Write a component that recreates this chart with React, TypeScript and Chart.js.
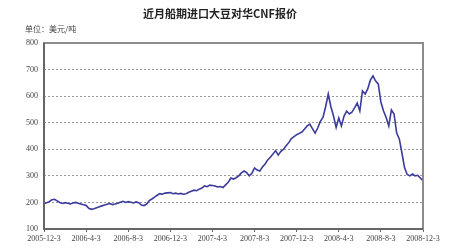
import { useEffect, useRef } from 'react';
import { Chart, registerables } from 'chart.js';

Chart.register(...registerables);

const chartTitle = '近月船期进口大豆对华CNF报价';
const unitLabel = '单位：美元/吨';
const tickLabels = [
  '2005-12-3', '2006-4-3', '2006-8-3', '2006-12-3', '2007-4-3',
  '2007-8-3', '2007-12-3', '2008-4-3', '2008-8-3', '2008-12-3',
];
const yMin = 100;
const yMax = 800;
const yStep = 100;
// weekly prices (USD/ton), 2005-12-3 .. 2008-12-3
const weeklyPrices = [
  196, 199, 203, 210,
  212, 206, 200, 196,
  199, 197, 194, 198,
  200, 197, 194, 191,
  189, 178, 174, 176,
  180, 184, 187, 190,
  193, 196, 192, 194,
  197, 201, 204, 200,
  203, 201, 198, 202,
  199, 190, 188, 194,
  207, 213, 220, 227,
  233, 231, 235, 236,
  237, 233, 235, 232,
  234, 231, 233, 238,
  242, 246, 244, 250,
  254, 262, 259, 265,
  264, 262, 258, 260,
  256, 266, 276, 292,
  288, 293, 300, 311,
  318, 312, 300, 310,
  330, 322, 318, 333,
  345, 360, 370, 382,
  395, 378, 392, 400,
  413, 425, 440, 448,
  455, 460, 465, 476,
  488, 495, 478, 461,
  480, 505, 520, 560,
  608, 560, 525, 482,
  518, 488, 525, 544,
  533, 540, 556, 574,
  544, 620, 608, 627,
  660, 676, 657, 646,
  578, 544, 520, 488,
  548, 533, 461, 439,
  386, 330, 305, 300,
  307, 300, 302, 292,
  281,
];
const weeksPerLabel = 16;

export default function App() {
  const ref = useRef<HTMLCanvasElement>(null);

  useEffect(() => {
    document.body.style.margin = '0';
    if (!ref.current) return;

    const framePlugin = {
      id: 'frameAndTitles',
      afterDraw(chart: any) {
        const { ctx, chartArea } = chart;
        const { left, top, right, bottom } = chartArea;
        ctx.save();
        ctx.setLineDash([]);
        ctx.strokeStyle = '#8c8c8c';
        ctx.lineWidth = 2;
        ctx.strokeRect(left, top, right - left, bottom - top);
        ctx.strokeStyle = '#5a5a5a';
        ctx.lineWidth = 1.5;
        ctx.beginPath();
        ctx.moveTo(left, top);
        ctx.lineTo(left, bottom);
        ctx.lineTo(right, bottom);
        ctx.stroke();

        ctx.fillStyle = '#222';
        ctx.textAlign = 'center';
        ctx.textBaseline = 'middle';
        ctx.font = 'bold 11px "Noto Sans CJK SC"';
        ctx.fillText(chartTitle, 220, 14);
        ctx.fillStyle = '#444';
        ctx.textAlign = 'left';
        ctx.font = '8px "Noto Sans CJK SC"';
        ctx.fillText(unitLabel, 25, 29);
        ctx.restore();
      },
    };

    const chart = new Chart(ref.current, {
      type: 'line',
      data: {
        datasets: [
          {
            data: weeklyPrices.map((v, i) => ({ x: i, y: v })),
            borderColor: '#3b3b9c',
            borderWidth: 1.6,
            pointRadius: 0,
            tension: 0,
            fill: false,
          },
        ],
      },
      options: {
        animation: false,
        responsive: false,
        maintainAspectRatio: false,
        layout: { padding: { top: 43, right: 27, left: 0, bottom: 0 } },
        plugins: {
          legend: { display: false },
          title: { display: false },
          tooltip: { enabled: false },
        },
        scales: {
          x: {
            type: 'linear',
            min: 0,
            max: (tickLabels.length - 1) * weeksPerLabel,
            afterFit(scale: any) {
              scale.height = 21;
            },
            afterBuildTicks(scale: any) {
              scale.ticks = tickLabels.map((_, i) => ({ value: i * weeksPerLabel }));
            },
            ticks: {
              autoSkip: false,
              maxRotation: 0,
              padding: 2,
              color: '#444',
              font: { family: '"Liberation Serif"', size: 8 },
              callback: (v: any) => tickLabels[Math.round(Number(v) / weeksPerLabel)] ?? '',
            },
            grid: {
              drawOnChartArea: false,
              drawTicks: true,
              tickLength: 3,
              color: '#666',
            },
            border: { display: false },
          },
          y: {
            min: yMin,
            max: yMax,
            afterFit(scale: any) {
              scale.width = 44;
            },
            ticks: {
              stepSize: yStep,
              padding: 6,
              color: '#444',
              font: { family: '"Liberation Serif"', size: 8 },
            },
            grid: {
              color: '#9a9a9a',
              lineWidth: 1,
              drawTicks: false,
            },
            border: { display: false, dash: [2, 2] },
          },
        },
      },
      plugins: [framePlugin],
    });

    return () => chart.destroy();
  }, []);

  return <canvas ref={ref} width={450} height={250} style={{ display: 'block', width: 450, height: 250 }} />;
}
